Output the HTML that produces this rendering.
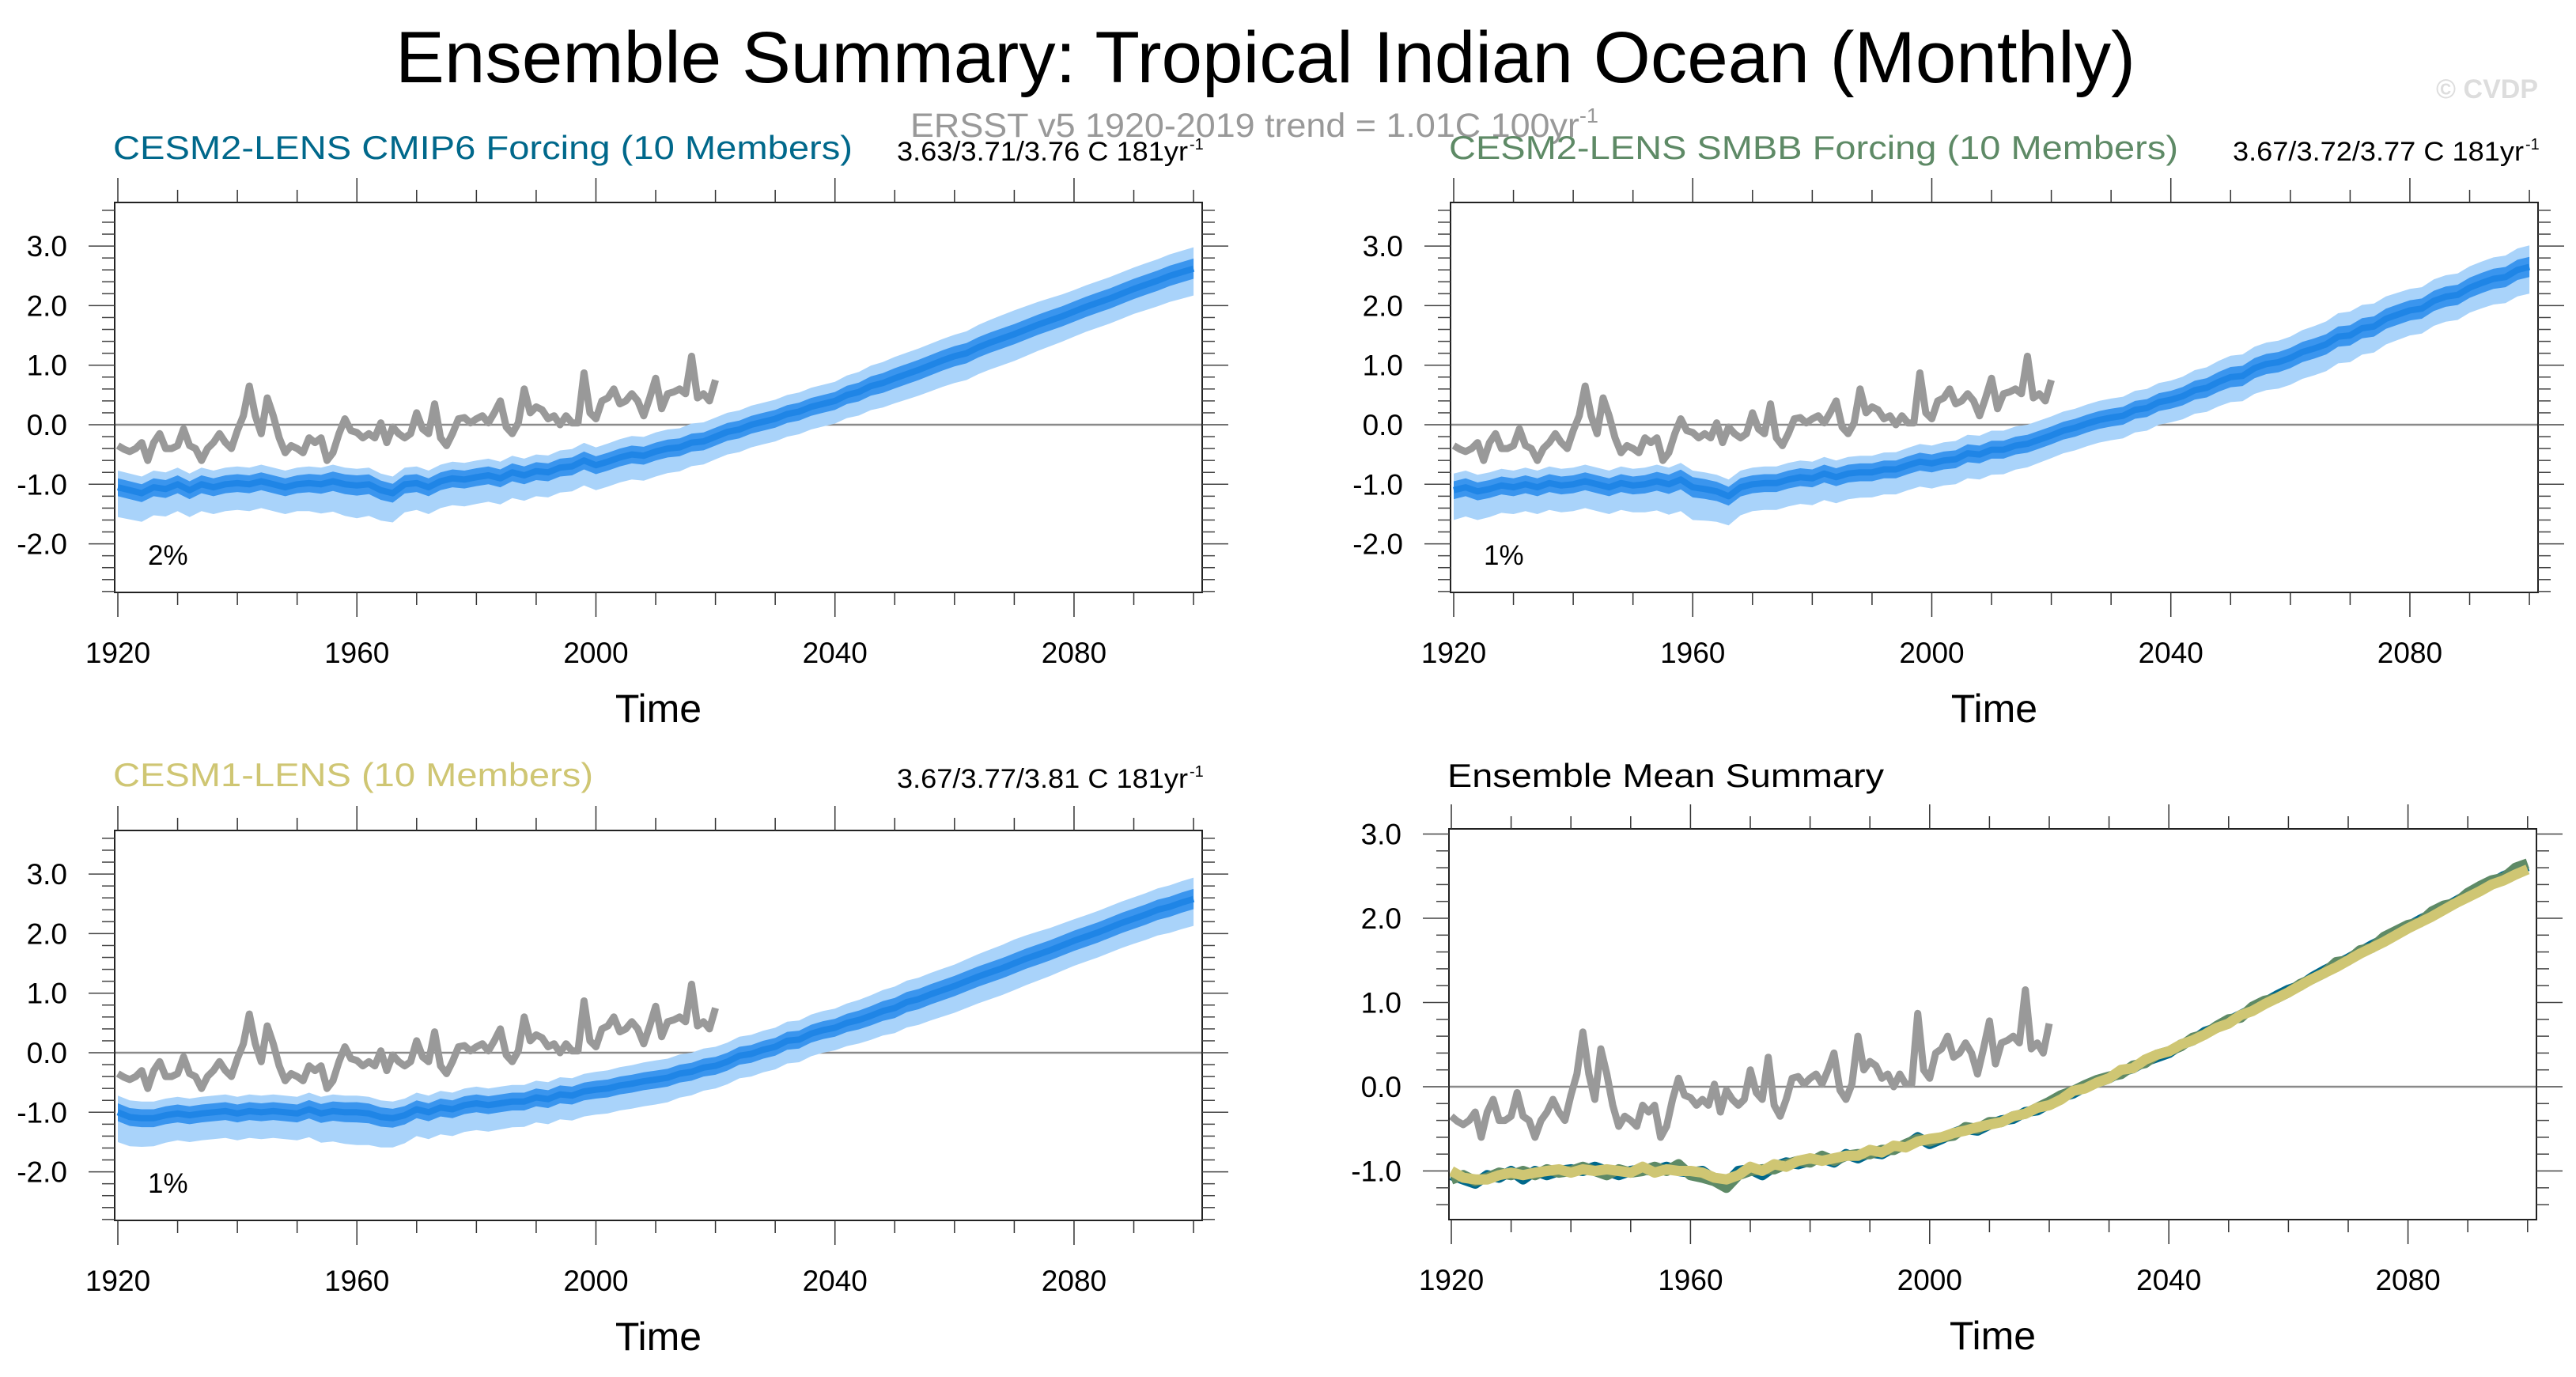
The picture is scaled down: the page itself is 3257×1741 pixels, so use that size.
<!DOCTYPE html>
<html><head><meta charset="utf-8"><style>
html,body{margin:0;padding:0;background:#fff;}
svg{display:block;font-family:"Liberation Sans",Arial,sans-serif;}
</style></head><body>
<svg id="chart" width="3257" height="1741" viewBox="0 0 3257 1741" xmlns="http://www.w3.org/2000/svg">
<text x="1600" y="104" font-size="92" text-anchor="middle" textLength="2200" lengthAdjust="spacingAndGlyphs" fill="#000">Ensemble Summary: Tropical Indian Ocean (Monthly)</text>
<text x="3209" y="124" font-size="34" font-weight="bold" text-anchor="end" fill="#dddddd">© CVDP</text>
<text x="1151" y="173" font-size="43" fill="#999999" textLength="870" lengthAdjust="spacingAndGlyphs">ERSST v5 1920-2019 trend = 1.01C 100yr<tspan dy="-18" font-size="26">-1</tspan></text>
<g id="panels"></g>
</svg>
<script>
// ---- data ----
const obsYears = [];
for (let y = 1920; y <= 2020; y++) obsYears.push(y);
const obsValues = [-0.35,-0.41,-0.45,-0.4,-0.3,-0.6,-0.3,-0.15,-0.4,-0.4,-0.35,-0.07,-0.35,-0.4,-0.6,-0.4,-0.3,-0.15,-0.3,-0.4,
-0.1,0.15,0.65,0.15,-0.15,0.45,0.15,-0.22,-0.47,-0.35,-0.4,-0.47,-0.22,-0.3,-0.22,-0.6,-0.47,-0.15,0.1,-0.1,
-0.13,-0.22,-0.15,-0.22,0.03,-0.3,-0.04,-0.15,-0.22,-0.15,0.2,-0.07,-0.15,0.35,-0.22,-0.35,-0.15,0.1,0.12,0.03,
0.1,0.15,0.03,0.2,0.4,-0.04,-0.15,0.03,0.6,0.2,0.3,0.25,0.1,0.15,0,0.15,0.03,0.03,0.87,0.2,
0.1,0.4,0.45,0.6,0.35,0.4,0.52,0.4,0.15,0.45,0.78,0.27,0.52,0.55,0.6,0.52,1.15,0.45,0.52,0.4,0.75];
const modelYears = [];
for (let y = 1920; y <= 2100; y += 2) modelYears.push(y);
const cmip6Mean = [-1.05,-1.1,-1.15,-1.05,-1.08,-1.0,-1.1,-1.0,-1.05,-1.0,-0.98,-1.0,-0.95,-1.0,-1.05,-1.0,-0.98,-1.0,-0.95,-1.0,
-1.02,-1.0,-1.1,-1.15,-1.0,-0.98,-1.05,-0.95,-0.9,-0.92,-0.88,-0.85,-0.9,-0.8,-0.85,-0.78,-0.8,-0.72,-0.7,-0.6,
-0.68,-0.62,-0.55,-0.5,-0.52,-0.45,-0.4,-0.38,-0.3,-0.28,-0.2,-0.12,-0.08,0.0,0.05,0.1,0.18,0.22,0.3,0.35,
0.4,0.5,0.55,0.65,0.7,0.78,0.85,0.92,1.0,1.08,1.15,1.2,1.3,1.38,1.45,1.52,1.6,1.68,1.75,1.82,
1.9,1.98,2.05,2.12,2.2,2.28,2.35,2.42,2.5,2.56,2.62];
const smbbMean = [-1.1,-1.05,-1.12,-1.08,-1.02,-1.05,-1.0,-1.05,-0.98,-1.02,-1.0,-0.95,-1.0,-1.05,-0.98,-1.02,-1.0,-0.95,-1.0,-0.92,
-1.05,-1.08,-1.12,-1.2,-1.05,-1.0,-0.98,-0.98,-0.92,-0.88,-0.9,-0.82,-0.88,-0.82,-0.8,-0.8,-0.75,-0.75,-0.68,-0.62,
-0.65,-0.6,-0.58,-0.48,-0.5,-0.42,-0.42,-0.35,-0.32,-0.25,-0.18,-0.1,-0.05,0.02,0.08,0.12,0.15,0.25,0.28,0.38,
0.42,0.48,0.58,0.62,0.72,0.8,0.82,0.95,1.02,1.05,1.12,1.22,1.28,1.35,1.48,1.5,1.62,1.65,1.78,1.85,
1.92,1.95,2.08,2.15,2.18,2.3,2.38,2.45,2.48,2.6,2.65];
const cesm1Mean = [-1.0,-1.08,-1.1,-1.1,-1.05,-1.02,-1.05,-1.02,-1.0,-0.98,-1.02,-0.98,-1.0,-0.98,-1.0,-1.02,-0.95,-1.02,-0.98,-1.0,
-1.0,-1.02,-1.08,-1.1,-1.05,-0.95,-1.0,-0.92,-0.95,-0.88,-0.85,-0.88,-0.85,-0.82,-0.82,-0.75,-0.78,-0.7,-0.72,-0.65,
-0.62,-0.6,-0.55,-0.52,-0.48,-0.45,-0.42,-0.35,-0.32,-0.25,-0.22,-0.15,-0.05,-0.02,0.05,0.1,0.2,0.22,0.32,0.38,
0.42,0.5,0.55,0.62,0.7,0.75,0.85,0.9,0.98,1.05,1.12,1.2,1.28,1.35,1.42,1.5,1.58,1.65,1.72,1.8,
1.88,1.95,2.02,2.1,2.18,2.25,2.32,2.4,2.45,2.52,2.58];
const spreadYears = [1920,1930,1940,1950,1960,1970,1980,1990,2000,2010,2020,2030,2040,2050,2060,2070,2080,2090,2100];
const lowSpread = [0.5,0.45,0.45,0.45,0.55,0.45,0.45,0.42,0.42,0.42,0.38,0.38,0.38,0.42,0.45,0.45,0.42,0.42,0.45];
const highSpread = [0.28,0.28,0.28,0.28,0.28,0.28,0.28,0.28,0.3,0.32,0.32,0.32,0.32,0.36,0.36,0.4,0.36,0.36,0.36];
const darkSpread = [0.15,0.15,0.15,0.15,0.17,0.15,0.15,0.15,0.15,0.15,0.15,0.15,0.15,0.17,0.17,0.17,0.17,0.17,0.17];
const xTickYears = [1920,1960,2000,2040,2080];
const yTickValsA = [-2,-1,0,1,2,3];
const yTickValsB = [-1,0,1,2,3];

const NS = "http://www.w3.org/2000/svg";
const root = document.getElementById('panels');
function mk(tag, attrs, parent) {
  const e = document.createElementNS(NS, tag);
  for (const k in attrs) e.setAttribute(k, attrs[k]);
  (parent || root).appendChild(e);
  return e;
}
function interp(xs, ys, x) {
  for (let i = 0; i < xs.length - 1; i++) {
    if (x <= xs[i + 1]) { const t = (x - xs[i]) / (xs[i + 1] - xs[i]); return ys[i] + t * (ys[i + 1] - ys[i]); }
  }
  return ys[ys.length - 1];
}
function pathOf(xs, ys, X, Y) {
  return xs.map((x, i) => (i ? 'L' : 'M') + X(x).toFixed(1) + ' ' + Y(ys[i]).toFixed(1)).join(' ');
}

function panel(cfg) {
  const g = mk('g', {});
  
  
  const X = yr => cfg.x1920 + (yr - 1920) * cfg.ppy;
  const Y = v => cfg.zeroY - v * cfg.ppu;
  const clipId = cfg.name + '-clip';
  const cp = mk('clipPath', { id: clipId }, g);
  mk('rect', { x: cfg.left, y: cfg.top, width: cfg.right - cfg.left, height: cfg.bottom - cfg.top }, cp);
  const plot = mk('g', { 'clip-path': 'url(#' + clipId + ')' }, g);
  const zl = mk('line', { x1: cfg.left, x2: cfg.right, y1: Y(0), y2: Y(0), stroke: '#8a8a8a', 'stroke-width': 2.5 }, plot);
  
  
  if (cfg.kind === 'band') {
    const up = modelYears.map((y, i) => cfg.mean[i] + interp(spreadYears, highSpread, y));
    const lo = modelYears.map((y, i) => cfg.mean[i] - interp(spreadYears, lowSpread, y));
    let d = pathOf(modelYears, up, X, Y) + ' ' + modelYears.slice().reverse().map((y, j) => 'L' + X(y).toFixed(1) + ' ' + Y(lo[lo.length - 1 - j]).toFixed(1)).join(' ') + 'Z';
    const lb = mk('path', { d: d, fill: '#a9d3fa' }, plot);
    
    
    const up2 = modelYears.map((y, i) => cfg.mean[i] + interp(spreadYears, darkSpread, y));
    const lo2 = modelYears.map((y, i) => cfg.mean[i] - interp(spreadYears, darkSpread, y));
    d = pathOf(modelYears, up2, X, Y) + ' ' + modelYears.slice().reverse().map((y, j) => 'L' + X(y).toFixed(1) + ' ' + Y(lo2[lo2.length - 1 - j]).toFixed(1)).join(' ') + 'Z';
    const db = mk('path', { d: d, fill: '#3a95ee' }, plot);
    
    
    const ml = mk('path', { d: pathOf(modelYears, cfg.mean, X, Y), fill: 'none', stroke: '#1f85e6', 'stroke-width': 8, 'stroke-linejoin': 'round' }, plot);
    
    
  } else {
    const series = [[cmip6Mean, '#00688b', 'cesm2-cmip6-mean-line'], [smbbMean, '#5e8a66', 'cesm2-smbb-mean-line'], [cesm1Mean, '#cfc673', 'cesm1-mean-line']];
    series.forEach(s => {
      const p = mk('path', { d: pathOf(modelYears, s[0], X, Y), fill: 'none', stroke: s[1], 'stroke-width': 13, 'stroke-linejoin': 'round' }, plot);
      
      
    });
  }
  const ob = mk('path', { d: pathOf(obsYears, obsValues, X, Y), fill: 'none', stroke: '#999999', 'stroke-width': 9, 'stroke-linejoin': 'round' }, plot);
  
  
  const fr = mk('rect', { x: cfg.left, y: cfg.top, width: cfg.right - cfg.left, height: cfg.bottom - cfg.top, fill: 'none', stroke: '#222', 'stroke-width': 2 }, g);
  
  
  for (let yr = 1920; yr <= 2100; yr += 10) {
    const major = (yr - 1920) % 40 === 0;
    const len = major ? 31 : 16;
    const x = X(yr);
    mk('line', { x1: x, x2: x, y1: cfg.top - len, y2: cfg.top, stroke: '#333', 'stroke-width': 1.5 }, g);
    mk('line', { x1: x, x2: x, y1: cfg.bottom, y2: cfg.bottom + len, stroke: '#333', 'stroke-width': 1.5 }, g);
  }
  xTickYears.forEach(yr => {
    const t = mk('text', { x: X(yr), y: cfg.bottom + 89, 'font-size': 37, 'text-anchor': 'middle' }, g);
    
    
    t.textContent = yr;
  });
  for (let k = Math.round(cfg.yMin * 5); k <= Math.round(cfg.yMax * 5); k++) {
    const v = k / 5, y = Y(v);
    const major = k % 5 === 0;
    const len = major ? 33 : 16;
    mk('line', { x1: cfg.left - len, x2: cfg.left, y1: y, y2: y, stroke: '#444', 'stroke-width': 1.5 }, g);
    mk('line', { x1: cfg.right, x2: cfg.right + len, y1: y, y2: y, stroke: '#444', 'stroke-width': 1.5 }, g);
  }
  cfg.yTicks.forEach(v => {
    const t = mk('text', { x: cfg.left - 60, y: Y(v) + 13, 'font-size': 37, 'text-anchor': 'end' }, g);
    
    
    t.textContent = v.toFixed(1);
  });
  const xt = mk('text', { x: (cfg.left + cfg.right) / 2, y: cfg.bottom + 164, 'font-size': 50, 'text-anchor': 'middle' }, g);
  
  
  xt.textContent = 'Time';
  const st = mk('text', { x: cfg.left - 2, y: cfg.titleY, 'font-size': 42, fill: cfg.titleColor }, g);
  
  
  if (cfg.titleLen) { st.setAttribute('textLength', cfg.titleLen); st.setAttribute('lengthAdjust', 'spacingAndGlyphs'); }
  st.textContent = cfg.title;
  if (cfg.stats) {
    const sx = mk('text', { x: cfg.right - 386, y: cfg.titleY + 2, 'font-size': 34, textLength: 368, lengthAdjust: 'spacingAndGlyphs' }, g);
    
    
    sx.textContent = cfg.stats;
    const sup = mk('text', { x: cfg.right - 16, y: cfg.titleY - 12, 'font-size': 20 }, g);
    
    
    sup.textContent = '-1';
  }
  if (cfg.pct) {
    const pt = mk('text', { x: cfg.left + 42, y: cfg.bottom - 35, 'font-size': 35 }, g);
    
    
    pt.textContent = cfg.pct;
  }
}

panel({ name: 'panel-cesm2-cmip6', kind: 'band', mean: cmip6Mean, left: 145, right: 1520, top: 256, bottom: 749, x1920: 149, ppy: 7.556, zeroY: 537, ppu: 75.3, yMin: -2.8, yMax: 3.6, yTicks: yTickValsA,
  title: 'CESM2-LENS CMIP6 Forcing (10 Members)', titleColor: '#00688b', titleY: 201, titleLen: 935, stats: '3.63/3.71/3.76 C 181yr', pct: '2%' });
panel({ name: 'panel-cesm2-smbb', kind: 'band', mean: smbbMean, left: 1834, right: 3209, top: 256, bottom: 749, x1920: 1838, ppy: 7.556, zeroY: 537, ppu: 75.3, yMin: -2.8, yMax: 3.6, yTicks: yTickValsA,
  title: 'CESM2-LENS SMBB Forcing (10 Members)', titleColor: '#5e8a66', titleY: 201, titleLen: 922, stats: '3.67/3.72/3.77 C 181yr', pct: '1%' });
panel({ name: 'panel-cesm1', kind: 'band', mean: cesm1Mean, left: 145, right: 1520, top: 1050, bottom: 1543, x1920: 149, ppy: 7.556, zeroY: 1331, ppu: 75.3, yMin: -2.8, yMax: 3.6, yTicks: yTickValsA,
  title: 'CESM1-LENS (10 Members)', titleColor: '#cfc673', titleY: 994, titleLen: 607, stats: '3.67/3.77/3.81 C 181yr', pct: '1%' });
panel({ name: 'panel-ensemble-mean', kind: 'mean', left: 1832, right: 3207, top: 1048, bottom: 1542, x1920: 1835, ppy: 7.56, zeroY: 1374, ppu: 106.5, yMin: -1.4, yMax: 3.0, yTicks: yTickValsB,
  title: 'Ensemble Mean Summary', titleColor: '#000', titleY: 995, titleLen: 552 });
</script>
</body></html>
